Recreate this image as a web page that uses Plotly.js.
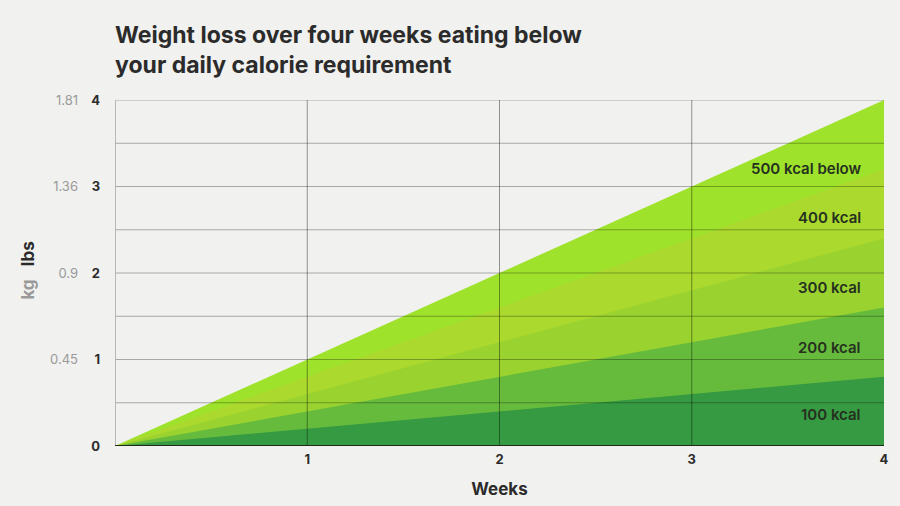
<!DOCTYPE html>
<html>
<head>
<meta charset="utf-8">
<script src="https://cdn.plot.ly/plotly-3.0.1.min.js"></script>
<style>
html,body{margin:0;padding:0;background:#f1f1ef;}
#chart{width:900px;height:506px;}
</style>
</head>
<body>
<div id="chart"></div>
<script>
// Data
const weeks = [0, 1, 2, 3, 4];
const seriesNames = ["100 kcal", "200 kcal", "300 kcal", "400 kcal", "500 kcal below"];
const loss100 = [0, 0.2, 0.4, 0.6, 0.8];
const loss200 = [0, 0.4, 0.8, 1.2, 1.6];
const loss300 = [0, 0.6, 1.2, 1.8, 2.4];
const loss400 = [0, 0.8, 1.6, 2.4, 3.2];
const loss500 = [0, 1.0, 2.0, 3.0, 4.0];
const lbsTicks = [0, 1, 2, 3, 4];
const kgTickVals = [1, 2, 3, 4];
const kgTickText = ["0.45", "0.9", "1.36", "1.81"];
const weekTicks = [1, 2, 3, 4];
const gridY = [0.5, 1, 1.5, 2, 2.5, 3, 3.5, 4];
const gridX = [1, 2, 3];
const labelY = [0.36, 1.14, 1.83, 2.64, 3.21];

const FONT = "Inter, 'Noto Sans', sans-serif";
const colors = ["#359a42", "#66bb3c", "#9ad330", "#abd92e", "#9fe22c"];
const allSeries = [loss100, loss200, loss300, loss400, loss500];

// draw the largest area first so smaller ones sit on top
const traces = allSeries.map((s, i) => ({
  x: weeks, y: s, type: "scatter", mode: "lines",
  name: seriesNames[i],
  line: {width: 0, color: colors[i]},
  fill: "tozeroy",
  fillcolor: colors[i],
  hoverinfo: "skip"
})).reverse();

const shapes = [];
gridY.forEach(v => shapes.push({type: "line", xref: "x", yref: "y", x0: 0, x1: 4, y0: v, y1: v, layer: "above", line: {color: "rgba(0,0,0,0.3)", width: 1}}));
gridX.forEach(v => shapes.push({type: "line", xref: "x", yref: "y", x0: v, x1: v, y0: 0, y1: 4, layer: "above", line: {color: "rgba(0,0,0,0.4)", width: 1}}));
shapes.push({type: "line", xref: "x", yref: "y", x0: 0, x1: 0, y0: 0, y1: 4, layer: "above", line: {color: "#a8a8a8", width: 1.5}});
shapes.push({type: "line", xref: "x", yref: "y", x0: 0, x1: 4, y0: 0, y1: 0, layer: "above", line: {color: "#1e2b1a", width: 2}});

const annotations = seriesNames.map((n, i) => ({
  x: 3.89, y: labelY[i], xref: "x", yref: "y", text: n, showarrow: false,
  xanchor: "right", yanchor: "middle",
  font: {family: FONT, size: 15, color: "#25301f", weight: 600}
}));
annotations.push(
  {xref: "paper", yref: "y", x: -0.014, y: 2.22, text: "lbs", textangle: -90, showarrow: false, xanchor: "center", yanchor: "middle",
   font: {family: FONT, size: 17, color: "#2b2b2b", weight: 700}},
  {xref: "paper", yref: "y", x: -0.014, y: 1.81, text: "kg", textangle: -90, showarrow: false, xanchor: "center", yanchor: "middle",
   font: {family: FONT, size: 17, color: "#9a9a9a", weight: 700}}
);

const layout = {
  width: 900, height: 506,
  paper_bgcolor: "#f1f1ef", plot_bgcolor: "#f1f1ef",
  margin: {l: 40, r: 16, t: 100, b: 60},
  showlegend: false,
  title: {
    text: "Weight loss over four weeks eating below<br>your daily calorie requirement",
    x: 0.0889, xref: "paper", xanchor: "left", yref: "container", y: 0.915, yanchor: "top",
    font: {family: FONT, size: 23, color: "#2b2b2b", weight: 700}
  },
  xaxis: {
    domain: [0.0889, 1], range: [0, 4], tickvals: weekTicks, showgrid: false, zeroline: false,
    showline: false, ticks: "", tickfont: {family: FONT, size: 13, color: "#2b2b2b", weight: 700},
    ticklabelstandoff: 4,
    title: {text: "Weeks", standoff: 17, font: {family: FONT, size: 17, color: "#2b2b2b", weight: 700}}
  },
  yaxis: {
    range: [0, 4], tickvals: lbsTicks, showgrid: false, zeroline: false, showline: false, ticks: "",
    tickfont: {family: FONT, size: 13, color: "#2b2b2b", weight: 700},
    ticklabelstandoff: 14
  },
  yaxis2: {
    range: [0, 4], overlaying: "y", anchor: "free", position: 0.045, side: "left",
    tickvals: kgTickVals, ticktext: kgTickText, showgrid: false, zeroline: false, showline: false, ticks: "",
    tickfont: {family: FONT, size: 13, color: "#9a9a9a"}
  },
  shapes: shapes,
  annotations: annotations
};

const dummy = {x: [0], y: [0], yaxis: "y2", type: "scatter", mode: "markers", marker: {opacity: 0}, hoverinfo: "skip"};
Plotly.newPlot("chart", traces.concat([dummy]), layout, {displayModeBar: false, staticPlot: true});
</script>
</body>
</html>
